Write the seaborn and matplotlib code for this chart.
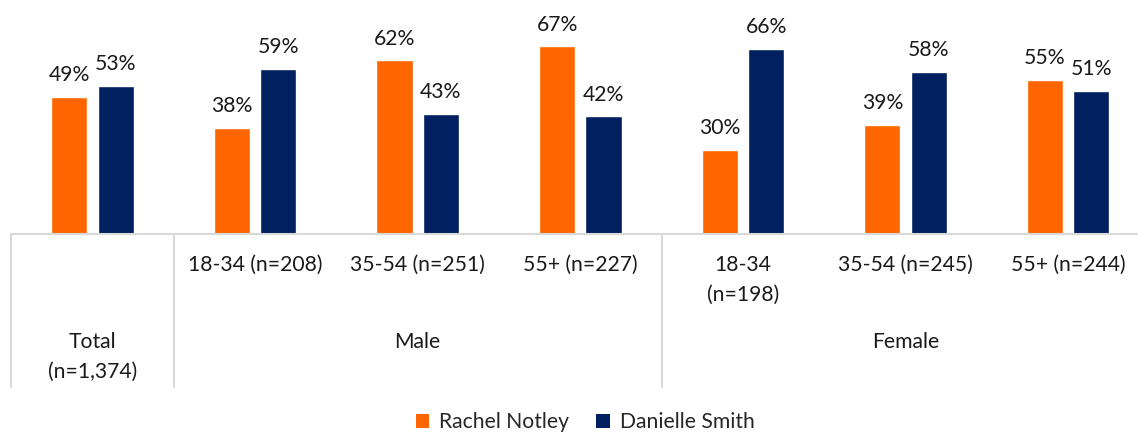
import matplotlib
matplotlib.use("Agg")
import matplotlib.pyplot as plt
import matplotlib.transforms as mtransforms
from matplotlib.lines import Line2D
from matplotlib.patches import Patch
import pandas as pd
import seaborn as sns

# Survey results by demographic segment
segment_keys = ["total", "m1834", "m3554", "m55", "f1834", "f3554", "f55"]
segment_lines = [
    ["Total", "(n=1,374)"],
    ["18-34 (n=208)"],
    ["35-54 (n=251)"],
    ["55+ (n=227)"],
    ["18-34", "(n=198)"],
    ["35-54 (n=245)"],
    ["55+ (n=244)"],
]
group_names = ["Male", "Female"]
group_spans = [(1, 3), (4, 6)]
series_names = ["Rachel Notley", "Danielle Smith"]
notley = [49, 38, 62, 67, 30, 39, 55]
smith = [53, 59, 43, 42, 66, 58, 51]

colors = ["#FF6600", "#002060"]
grid_gray = "#D9D9D9"
text_color = "#1A1A1A"
font = ["Lato", "DejaVu Sans"]
fs = 15.2

df = pd.DataFrame({
    "segment": segment_keys * 2,
    "candidate": [series_names[0]] * len(notley) + [series_names[1]] * len(smith),
    "value": notley + smith,
})

sns.set_theme(style="white")
plt.rcParams["font.family"] = font

W, H = 1138, 434
fig = plt.figure(figsize=(W / 100, H / 100), dpi=100)
# the category axis runs a little past the right edge of the canvas
ax_left, ax_right, ax_bottom_px = 11.2, 1149.4, 234
ax = fig.add_axes([ax_left / W, (H - ax_bottom_px) / H, (ax_right - ax_left) / W, ax_bottom_px / H])

sns.barplot(data=df, x="segment", y="value", hue="candidate", order=segment_keys,
            hue_order=series_names, palette=colors, width=0.57, gap=0.22,
            legend=False, ax=ax, saturation=1)

ax.set_xlim(-0.5, len(segment_keys) - 0.5)
ax.set_ylim(0, 83.6)
ax.set_xlabel("")
ax.set_ylabel("")
ax.set_xticks([])
ax.set_yticks([])
for side in ["top", "right", "left"]:
    ax.spines[side].set_visible(False)
ax.spines["bottom"].set_color(grid_gray)
ax.spines["bottom"].set_linewidth(1.5)

# Value labels above each bar
for container in ax.containers:
    ax.bar_label(container, labels=[f"{v:.0f}%" for v in container.datavalues],
                 padding=8.5, fontsize=fs, color=text_color, family=font)

# Multi-level category axis
trans = mtransforms.blended_transform_factory(ax.transData, fig.transFigure)

def fy(px):
    return 1 - px / H

for i, lines in enumerate(segment_lines):
    ys = [342, 372] if i == 0 else [265, 295]
    for line, y in zip(lines, ys):
        ax.text(i, fy(y), line, transform=trans, ha="center", va="center",
                fontsize=fs, color=text_color, family=font, clip_on=False)

for name, (a, b) in zip(group_names, group_spans):
    ax.text((a + b) / 2, fy(342), name, transform=trans, ha="center", va="center",
            fontsize=fs, color=text_color, family=font, clip_on=False)

for xd in [-0.5, 0.5, 3.5, 6.5]:
    ax.add_line(Line2D([xd, xd], [fy(ax_bottom_px), fy(387)], transform=trans,
                       color=grid_gray, linewidth=1.5, clip_on=False))

handles = [Patch(facecolor=c, edgecolor="none") for c in colors]
fig.legend(handles, series_names, loc="center", bbox_to_anchor=(585 / W, fy(422)),
           ncol=2, frameon=False, handlelength=0.65, handleheight=0.65,
           handletextpad=0.45, columnspacing=1.3, prop={"family": font, "size": fs})

fig.savefig("out.png", dpi=100)
